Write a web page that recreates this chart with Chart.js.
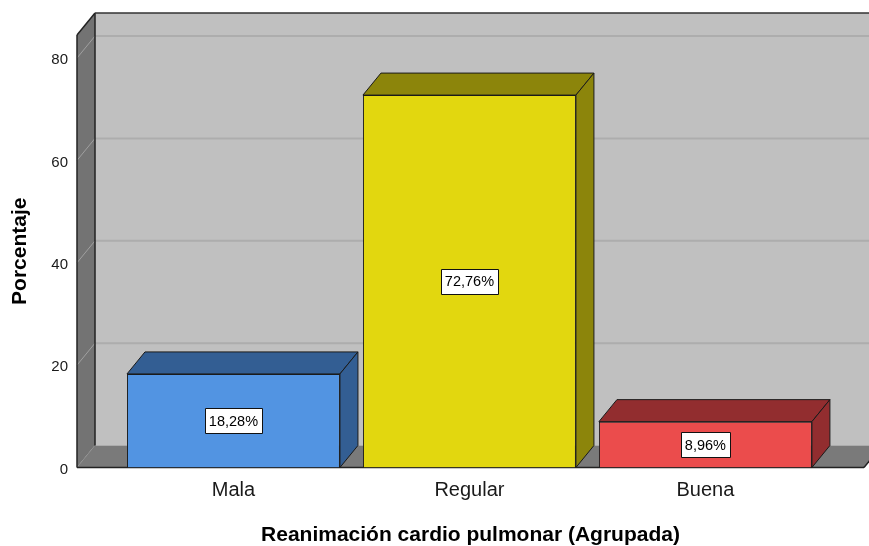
<!DOCTYPE html>
<html><head><meta charset="utf-8">
<script src="https://cdn.jsdelivr.net/npm/chart.js@4.4.1/dist/chart.umd.min.js"></script>
<style>html,body{margin:0;padding:0;background:#fff}#wrap{width:869px;height:546px}</style>
</head><body><div id="wrap"><canvas id="c" width="869" height="546"></canvas></div>
<script>
const categories = ['Mala', 'Regular', 'Buena'];
const percentages = [18.28, 72.76, 8.96];
const yTicks = [0, 20, 40, 60, 80];
const frontColors = ['#5294e2', '#e2d70f', '#eb4c4c'];
const shadeColors = ['#335e93', '#8c850b', '#922d2f'];
const xTitle = 'Reanimación cardio pulmonar (Agrupada)';
const yTitle = 'Porcentaje';

const DX = 18, DY = -22;
const FONT = "'Liberation Sans', Arial, sans-serif";

function poly(ctx, pts, fill, stroke, lw) {
  ctx.beginPath();
  ctx.moveTo(pts[0][0], pts[0][1]);
  for (let i = 1; i < pts.length; i++) ctx.lineTo(pts[i][0], pts[i][1]);
  ctx.closePath();
  if (fill) { ctx.fillStyle = fill; ctx.fill(); }
  if (stroke) { ctx.strokeStyle = stroke; ctx.lineWidth = lw || 1; ctx.stroke(); }
}
function line(ctx, x1, y1, x2, y2, color, lw) {
  ctx.beginPath(); ctx.moveTo(x1, y1); ctx.lineTo(x2, y2);
  ctx.strokeStyle = color; ctx.lineWidth = lw; ctx.stroke();
}

const wallsPlugin = {
  id: 'walls3d',
  beforeDatasetsDraw(chart) {
    const {ctx, chartArea: {left, right, top, bottom}, scales: {y}} = chart;
    const W = chart.width + 40;
    ctx.save();
    ctx.fillStyle = '#c0c0c0';
    ctx.fillRect(left + DX, top + DY, W, bottom - top);
    yTicks.forEach(v => {
      if (v === 0) return;
      const py = y.getPixelForValue(v) + DY;
      line(ctx, left + DX, py, W, py, '#adadad', 2);
    });
    poly(ctx, [[left, bottom], [left, top], [left + DX, top + DY], [left + DX, bottom + DY]], '#737373');
    yTicks.forEach(v => {
      const py = y.getPixelForValue(v);
      line(ctx, left, py, left + DX, py + DY, '#a0a0a0', 1);
    });
    poly(ctx, [[left, bottom], [left + DX, bottom + DY], [right + DX, bottom + DY], [right, bottom]], '#7a7a7a');
    line(ctx, left, top, left, bottom, '#222', 1.5);
    line(ctx, left, top, left + DX, top + DY, '#222', 1.5);
    line(ctx, left + DX, top + DY, left + DX, bottom + DY, '#222', 1.5);
    line(ctx, left + DX, top + DY, W, top + DY, '#333', 1.5);
    line(ctx, left, bottom, right, bottom, '#222', 1.5);
    line(ctx, right, bottom, right + DX, bottom + DY, '#222', 1.5);
    ctx.restore();
  }
};

const barsPlugin = {
  id: 'bars3d',
  afterDatasetsDraw(chart) {
    const {ctx} = chart;
    const meta = chart.getDatasetMeta(0);
    ctx.save();
    meta.data.forEach((el, i) => {
      const p = el.getProps(['x', 'y', 'base', 'width'], true);
      const x1 = p.x - p.width / 2, x2 = p.x + p.width / 2;
      const yt = p.y, yb = p.base;
      ctx.lineJoin = 'round';
      poly(ctx, [[x1, yt], [x1 + DX, yt + DY], [x2 + DX, yt + DY], [x2, yt]], shadeColors[i], '#1a1a1a', 1);
      poly(ctx, [[x2, yt], [x2 + DX, yt + DY], [x2 + DX, yb + DY], [x2, yb]], shadeColors[i], '#1a1a1a', 1);
    });
    ctx.font = '14.5px ' + FONT;
    ctx.textAlign = 'center';
    ctx.textBaseline = 'middle';
    meta.data.forEach((el, i) => {
      const p = el.getProps(['x', 'y', 'base'], true);
      const txt = percentages[i].toFixed(2).replace('.', ',') + '%';
      const tw = ctx.measureText(txt).width;
      const cy = (p.y + p.base) / 2;
      const bw = Math.round(tw + 8), bh = 25;
      const bx = Math.round(p.x - bw / 2) + 0.5, by = Math.round(cy - bh / 2) + 0.5;
      ctx.fillStyle = '#ffffff';
      ctx.fillRect(bx, by, bw, bh);
      ctx.strokeStyle = '#111';
      ctx.lineWidth = 1;
      ctx.strokeRect(bx, by, bw, bh);
      ctx.fillStyle = '#000';
      ctx.fillText(txt, p.x, cy + 1);
    });
    ctx.restore();
  }
};

const data = {
  datasets: [{
    data: categories.map((c, i) => ({x: i, y: percentages[i]})),
    backgroundColor: frontColors,
    borderColor: '#1a1a1a',
    borderWidth: 1,
    categoryPercentage: 1,
    barPercentage: 0.9025
  }]
};

new Chart(document.getElementById('c'), {
  type: 'bar',
  data,
  options: {
    responsive: false,
    devicePixelRatio: 1,
    animation: false,
    layout: {padding: {top: 35, right: 5, bottom: 0, left: 0}},
    plugins: {legend: {display: false}, tooltip: {enabled: false}},
    scales: {
      x: {
        type: 'linear',
        offset: false,
        bounds: 'data',
        min: -0.663, max: 2.672,
        grid: {display: false, drawTicks: false, offset: false},
        border: {display: false},
        afterBuildTicks: s => { s.ticks = categories.map((c, i) => ({value: i})); },
        afterFit: s => { s.height = 78.5; },
        ticks: {
          padding: 11,
          color: '#1a1a1a',
          font: {family: FONT, size: 20},
          maxRotation: 0,
          autoSkip: false,
          callback: v => categories[v]
        },
        title: {
          display: true, text: xTitle, color: '#000',
          font: {family: FONT, size: 21, weight: 'bold', lineHeight: 1},
          padding: {top: 0, bottom: 0}
        }
      },
      y: {
        min: 0, max: 84.5,
        grid: {display: false, drawTicks: false},
        border: {display: false},
        afterBuildTicks: s => { s.ticks = yTicks.map(v => ({value: v})); },
        afterFit: s => { s.width = 77; },
        ticks: {
          padding: 9,
          labelOffset: 2,
          color: '#1a1a1a',
          font: {family: FONT, size: 15}
        },
        title: {
          display: true, text: yTitle, color: '#000',
          font: {family: FONT, size: 21, weight: 'bold', lineHeight: 1},
          padding: {top: 10, bottom: 0}
        }
      }
    }
  },
  plugins: [wallsPlugin, barsPlugin]
});
</script>
</body></html>
